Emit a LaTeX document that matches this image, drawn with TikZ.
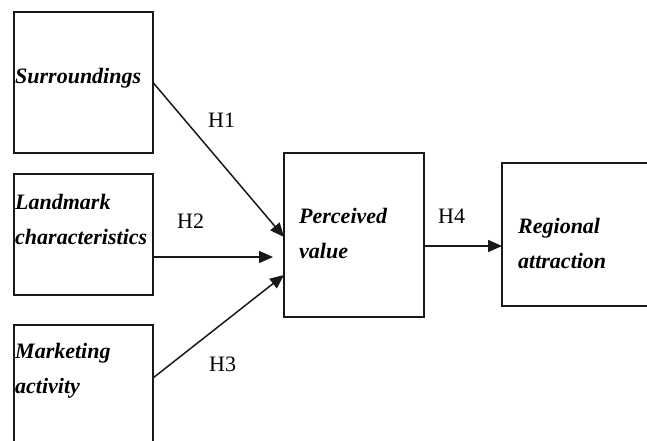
\documentclass[tikz,border=0pt]{standalone}
\usepackage{fontspec}
\setmainfont{Liberation Serif}
\usepackage{tikz}
\usetikzlibrary{positioning, arrows.meta, calc}
\definecolor{LineColor}{RGB}{25,25,25}

\tikzset{
  factor/.style={draw=LineColor, line width=1.5pt, inner sep=0pt, outer sep=0pt},
  factortext/.style={anchor=base west, align=left, inner sep=0pt, font=\fontsize{22}{35}\selectfont\bfseries\itshape},
  hyp/.style={anchor=base west, inner sep=0pt, font=\fontsize{22}{26}\selectfont},
  link/.style={draw=LineColor, line width=1.5pt, -{Triangle[length=14pt,width=12pt]}}
}

\begin{document}
\begin{tikzpicture}[x=1pt, y=-1pt]
          \useasboundingbox (0,0) rectangle (647,441);
          \clip (0,0) rectangle (647,441);
          \node[factor, minimum width=139pt, minimum height=141pt] (sur) at (83.5,82.5) {};
          \node[factor, minimum width=139pt, minimum height=121pt] (lan) at (83.5,234.5) {};
          \node[factor, minimum width=139pt, minimum height=155pt] (mkt) at (83.5,402.5) {};
          \node[factor, minimum width=140pt, minimum height=164pt] (pv) at (354,235) {};
          \node[factor, minimum width=198pt, minimum height=143pt] (reg) at (601,234.5) {};
          \node[factortext] (surtxt) at (15,84) {Surroundings};
          \node[factortext] (lantxt) at (15,244) {Landmark\\characteristics};
          \node[factortext] (mkttxt) at (15,393) {Marketing\\activity};
          \node[factortext] (pvtxt) at (299,258) {Perceived\\value};
          \node[factortext] (regtxt) at (518,268) {Regional\\attraction};
          \draw[link] (sur.east) -- ($(pv.west)+(0,2)$);
          \draw[link] ($(lan.east)+(0,22.5)$) -- ($(pv.west)+(-11,22)$);
          \draw[link] ($(mkt.east)+(0,-24.5)$) -- ($(pv.west)+(0,40)$);
          \draw[link] ($(pv.east)+(0,11)$) -- ($(reg.west)+(0,11.5)$);
          \node[hyp] (h1) at (208,127) {H1};
          \node[hyp] (h2) at (177,228) {H2};
          \node[hyp] (h3) at (209,371) {H3};
          \node[hyp] (h4) at (438,223) {H4};
        \end{tikzpicture}
\end{document}
